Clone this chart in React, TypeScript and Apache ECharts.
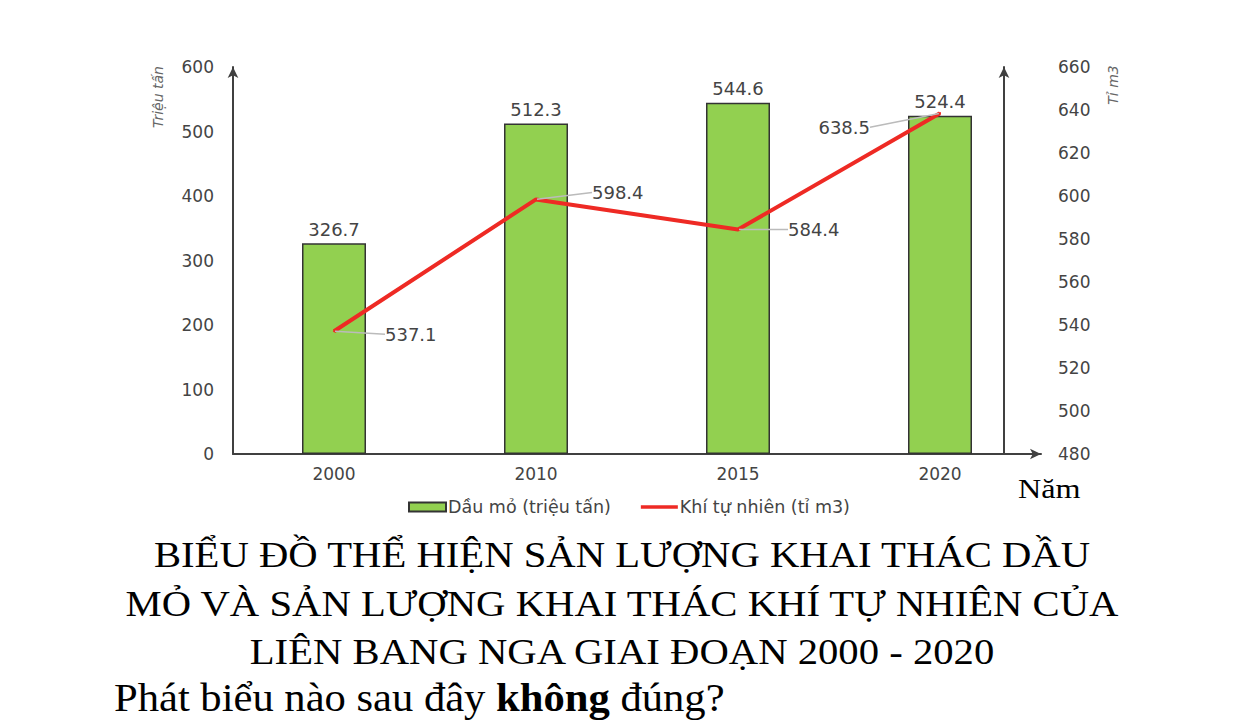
import React, { useEffect, useRef } from "react";
import * as echarts from "echarts";

const years = ["2000", "2010", "2015", "2020"];
const oilValues = [326.7, 512.3, 544.6, 524.4];
const gasValues = [537.1, 598.4, 584.4, 638.5];
const oilName = "Dầu mỏ (triệu tấn)";
const gasName = "Khí tự nhiên (tỉ m3)";
const titleLines = [
  "BIỂU ĐỒ THỂ HIỆN SẢN LƯỢNG KHAI THÁC DẦU",
  "MỎ VÀ SẢN LƯỢNG KHAI THÁC KHÍ TỰ NHIÊN CỦA",
  "LIÊN BANG NGA GIAI ĐOẠN 2000 - 2020",
];
// label offsets from line points: [dx, dy, align]
const gasLabelOffsets: [number, number, string][] = [
  [51, 3, "left"],
  [56, -7, "left"],
  [50, 0, "left"],
  [-70, 14, "right"],
];

const AX = "#404040";
const LBL = "#444";
const SANS = "DejaVu Sans, Arial, sans-serif";
const SERIF = "Liberation Serif, Times New Roman, serif";

export default function App() {
  const ref = useRef<HTMLDivElement>(null);
  useEffect(() => {
    if (!ref.current) return;
    const chart = echarts.init(ref.current, null, { renderer: "svg" });
    chart.setOption({
      animation: false,
      backgroundColor: "#fff",
      textStyle: { fontFamily: SANS },
      grid: { left: 233, right: 201, top: 67, bottom: 269, containLabel: false },
      legend: {
        left: 408,
        top: 498,
        itemWidth: 37,
        itemHeight: 9,
        itemGap: 30,
        padding: 0,
        textStyle: { fontSize: 17.5, color: LBL, fontFamily: SANS, padding: [0, 0, 0, -3] },
        data: [
          { name: oilName, icon: "rect" },
          { name: gasName, icon: "path://M0,0 H40 V4 H0 Z" },
        ],
      },
      xAxis: {
        type: "category",
        data: years,
        axisLine: {
          show: true,
          lineStyle: { color: AX, width: 2 },
          symbol: ["none", "arrow"],
          symbolSize: [8, 11],
        },
        axisTick: { show: false },
        axisLabel: { fontSize: 17, color: LBL, margin: 11, fontFamily: SANS },
        splitLine: { show: false },
      },
      yAxis: [
        {
          type: "value",
          min: 0,
          max: 600,
          interval: 100,
          axisLine: {
            show: true,
            lineStyle: { color: AX, width: 2 },
            symbol: ["none", "arrow"],
            symbolSize: [8, 11],
          },
          axisTick: { show: false },
          splitLine: { show: false },
          axisLabel: { fontSize: 17, color: LBL, margin: 19, fontFamily: SANS },
        },
        {
          type: "value",
          position: "right",
          offset: -37,
          min: 480,
          max: 660,
          interval: 20,
          axisLine: {
            show: true,
            lineStyle: { color: AX, width: 2 },
            symbol: ["none", "arrow"],
            symbolSize: [8, 11],
          },
          axisTick: { show: false },
          splitLine: { show: false },
          axisLabel: { fontSize: 17, color: LBL, margin: 54, fontFamily: SANS },
        },
      ],
      series: [
        {
          name: oilName,
          type: "bar",
          yAxisIndex: 0,
          data: oilValues,
          barWidth: 64,
          itemStyle: { color: "#92D050", borderColor: "#333", borderWidth: 1.5 },
          label: {
            show: true,
            position: "top",
            distance: 5,
            fontSize: 18,
            color: LBL,
            fontFamily: SANS,
          },
        },
        {
          name: gasName,
          type: "line",
          yAxisIndex: 1,
          data: gasValues,
          symbol: "circle",
          symbolSize: 2,
          itemStyle: { color: "#EE2A24" },
          lineStyle: { color: "#EE2A24", width: 4 },
          label: {
            show: true,
            position: "right",
            fontSize: 18,
            color: LBL,
            fontFamily: SANS,
          },
          labelLine: { show: true, lineStyle: { color: "#bbb", width: 1.5 } },
          labelLayout: (p: any) => {
            const r = p.rect;
            const cx = r.x + r.width / 2;
            const cy = r.y + r.height / 2;
            const o = gasLabelOffsets[p.dataIndex];
            return { x: cx + o[0], y: cy + o[1], align: o[2], verticalAlign: "middle" };
          },
          z: 5,
        },
      ],
      graphic: [
        {
          type: "text",
          x: 158,
          y: 97,
          rotation: Math.PI / 2,
          style: {
            text: "Triệu tấn",
            fontSize: 14,
            fontStyle: "italic",
            fill: "#666",
            fontFamily: SANS,
            align: "center",
            verticalAlign: "middle",
          },
        },
        {
          type: "text",
          x: 1113,
          y: 85,
          rotation: Math.PI / 2,
          style: {
            text: "Tỉ m3",
            fontSize: 14,
            fontStyle: "italic",
            fill: "#666",
            fontFamily: SANS,
            align: "center",
            verticalAlign: "middle",
          },
        },
        {
          type: "text",
          x: 1018,
          y: 489,
          scaleX: 1.15,
          style: {
            text: "Năm",
            fontSize: 28,
            fill: "#000",
            fontFamily: SERIF,
            align: "left",
            verticalAlign: "middle",
          },
        },
        ...titleLines.map((t, i) => ({
          type: "text",
          x: 622,
          y: 555 + i * 48.5,
          scaleX: 1.13,
          style: {
            text: t,
            fontSize: 36,
            fill: "#000",
            fontFamily: SERIF,
            align: "center",
            verticalAlign: "middle",
          },
        })),
        {
          type: "text",
          x: 114,
          y: 697,
          scaleX: 1.065,
          style: {
            text: "{a|Phát biểu nào sau đây }{b|không}{a| đúng?}",
            fontFamily: SERIF,
            align: "left",
            verticalAlign: "middle",
            rich: {
              a: { fontSize: 40, fill: "#000", fontFamily: SERIF },
              b: { fontSize: 40, fill: "#000", fontFamily: SERIF, fontWeight: "bold" },
            },
          },
        },
      ],
    });
    return () => chart.dispose();
  }, []);
  return (
    <div
      ref={ref}
      style={{ position: "fixed", left: 0, top: 0, width: 1242, height: 723, background: "#fff" }}
    />
  );
}
